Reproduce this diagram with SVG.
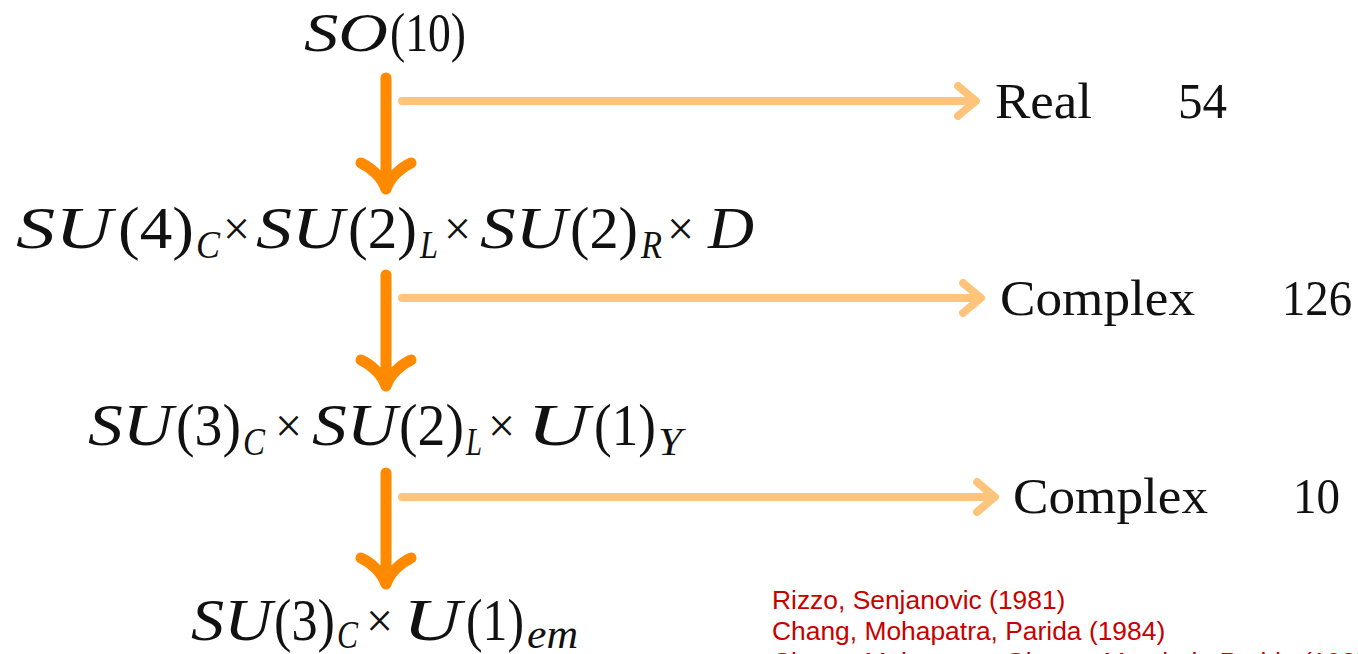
<svg xmlns="http://www.w3.org/2000/svg" width="1358" height="654" viewBox="0 0 1358 654">
<style>
.m{font-family:"Liberation Serif","DejaVu Serif",serif;font-size:60px;fill:#111}
.i{font-style:italic}
.s{font-size:40px}
.x{font-size:48px}
.r{font-family:"Liberation Serif","DejaVu Serif",serif;font-size:50px;fill:#111}
.ref{font-family:"Liberation Sans",Arial,sans-serif;font-size:26.4px;fill:#c80000}
.v{stroke:#ff8a00;stroke-width:11;stroke-linecap:round;stroke-linejoin:round;fill:none}
.h{stroke:#ffc47c;stroke-width:8;stroke-linecap:round;stroke-linejoin:round;fill:none}
</style>
<rect width="1358" height="654" fill="#fff"/>
<g id="connectors">
<path class="v" d="M386,78 V186 M361,163 C372,168 382,178 386,189 C390,178 400,168 411,163"/>
<path class="v" d="M386,275 V383 M361,360 C372,365 382,375 386,386 C390,375 400,365 411,360"/>
<path class="v" d="M386,473 V581 M361,558 C372,563 382,573 386,584 C390,573 400,563 411,558"/>
<path class="h" d="M402,101 H975 M958,86 C965,92 971,97 976,101 C971,105 965,110 958,116"/>
<path class="h" d="M402,298 H980 M963,283 C970,289 976,294 981,298 C976,302 970,307 963,313"/>
<path class="h" d="M402,497 H994 M977,482 C984,488 990,493 995,497 C990,501 984,506 977,512"/>
</g>
<g id="so10">
<text class="m i" style="font-size:54px" x="304" y="51" textLength="84" lengthAdjust="spacingAndGlyphs">SO</text>
<text class="m" style="font-size:54px" x="390" y="51" textLength="76" lengthAdjust="spacingAndGlyphs">(10)</text>
</g>
<g id="pati-salam">
<text class="m i" x="16" y="248" textLength="96" lengthAdjust="spacingAndGlyphs">SU</text>
<text class="m" x="118" y="248" textLength="76" lengthAdjust="spacingAndGlyphs">(4)</text>
<text class="m i s" x="196" y="258" textLength="24" lengthAdjust="spacingAndGlyphs">C</text>
<text class="m x" x="223" y="245">×</text>
<text class="m i" x="256" y="248" textLength="88" lengthAdjust="spacingAndGlyphs">SU</text>
<text class="m" x="348" y="248" textLength="69" lengthAdjust="spacingAndGlyphs">(2)</text>
<text class="m i s" x="420" y="258" textLength="18" lengthAdjust="spacingAndGlyphs">L</text>
<text class="m x" x="444" y="245">×</text>
<text class="m i" x="480" y="248" textLength="87" lengthAdjust="spacingAndGlyphs">SU</text>
<text class="m" x="570" y="248" textLength="68" lengthAdjust="spacingAndGlyphs">(2)</text>
<text class="m i s" x="641" y="258" textLength="21" lengthAdjust="spacingAndGlyphs">R</text>
<text class="m x" x="667" y="245">×</text>
<text class="m i" x="708" y="248" textLength="46" lengthAdjust="spacingAndGlyphs">D</text>
</g>
<g id="sm">
<text class="m i" x="88" y="445" textLength="85" lengthAdjust="spacingAndGlyphs">SU</text>
<text class="m" x="176" y="445" textLength="65" lengthAdjust="spacingAndGlyphs">(3)</text>
<text class="m i s" x="243" y="455" textLength="22" lengthAdjust="spacingAndGlyphs">C</text>
<text class="m x" x="275" y="442">×</text>
<text class="m i" x="312" y="445" textLength="85" lengthAdjust="spacingAndGlyphs">SU</text>
<text class="m" x="399" y="445" textLength="65" lengthAdjust="spacingAndGlyphs">(2)</text>
<text class="m i s" x="466" y="455" textLength="16" lengthAdjust="spacingAndGlyphs">L</text>
<text class="m x" x="488" y="442">×</text>
<text class="m i" x="527" y="445" textLength="62" lengthAdjust="spacingAndGlyphs">U</text>
<text class="m" x="594" y="445" textLength="62" lengthAdjust="spacingAndGlyphs">(1)</text>
<text class="m i s" x="658" y="455" textLength="24" lengthAdjust="spacingAndGlyphs">Y</text>
</g>
<g id="em">
<text class="m i" x="191" y="640" textLength="81" lengthAdjust="spacingAndGlyphs">SU</text>
<text class="m" x="274" y="640" textLength="61" lengthAdjust="spacingAndGlyphs">(3)</text>
<text class="m i s" x="337" y="648" textLength="21" lengthAdjust="spacingAndGlyphs">C</text>
<text class="m x" x="366" y="637">×</text>
<text class="m i" x="403" y="640" textLength="58" lengthAdjust="spacingAndGlyphs">U</text>
<text class="m" x="466" y="640" textLength="58" lengthAdjust="spacingAndGlyphs">(1)</text>
<text class="m i s" x="527" y="648" textLength="51" lengthAdjust="spacingAndGlyphs">em</text>
</g>
<g id="real">
<text class="r" x="995" y="118" textLength="97" lengthAdjust="spacingAndGlyphs">Real</text>
<text class="r" x="1178" y="118" textLength="49" lengthAdjust="spacingAndGlyphs">54</text>
</g>
<g id="complex126">
<text class="r" x="1000" y="315" textLength="195" lengthAdjust="spacingAndGlyphs">Complex</text>
<text class="r" x="1282" y="315" textLength="70" lengthAdjust="spacingAndGlyphs">126</text>
</g>
<g id="complex10">
<text class="r" x="1013" y="513" textLength="195" lengthAdjust="spacingAndGlyphs">Complex</text>
<text class="r" x="1293" y="513" textLength="47" lengthAdjust="spacingAndGlyphs">10</text>
</g>
<g id="references">
<text class="ref" x="772" y="609">Rizzo, Senjanovic (1981)</text>
<text class="ref" x="772" y="640">Chang, Mohapatra, Parida (1984)</text>
<text class="ref" x="772" y="671">Chang, Mohapatra, Gipson, Marshak, Parida (1985)</text>
</g>
</svg>
